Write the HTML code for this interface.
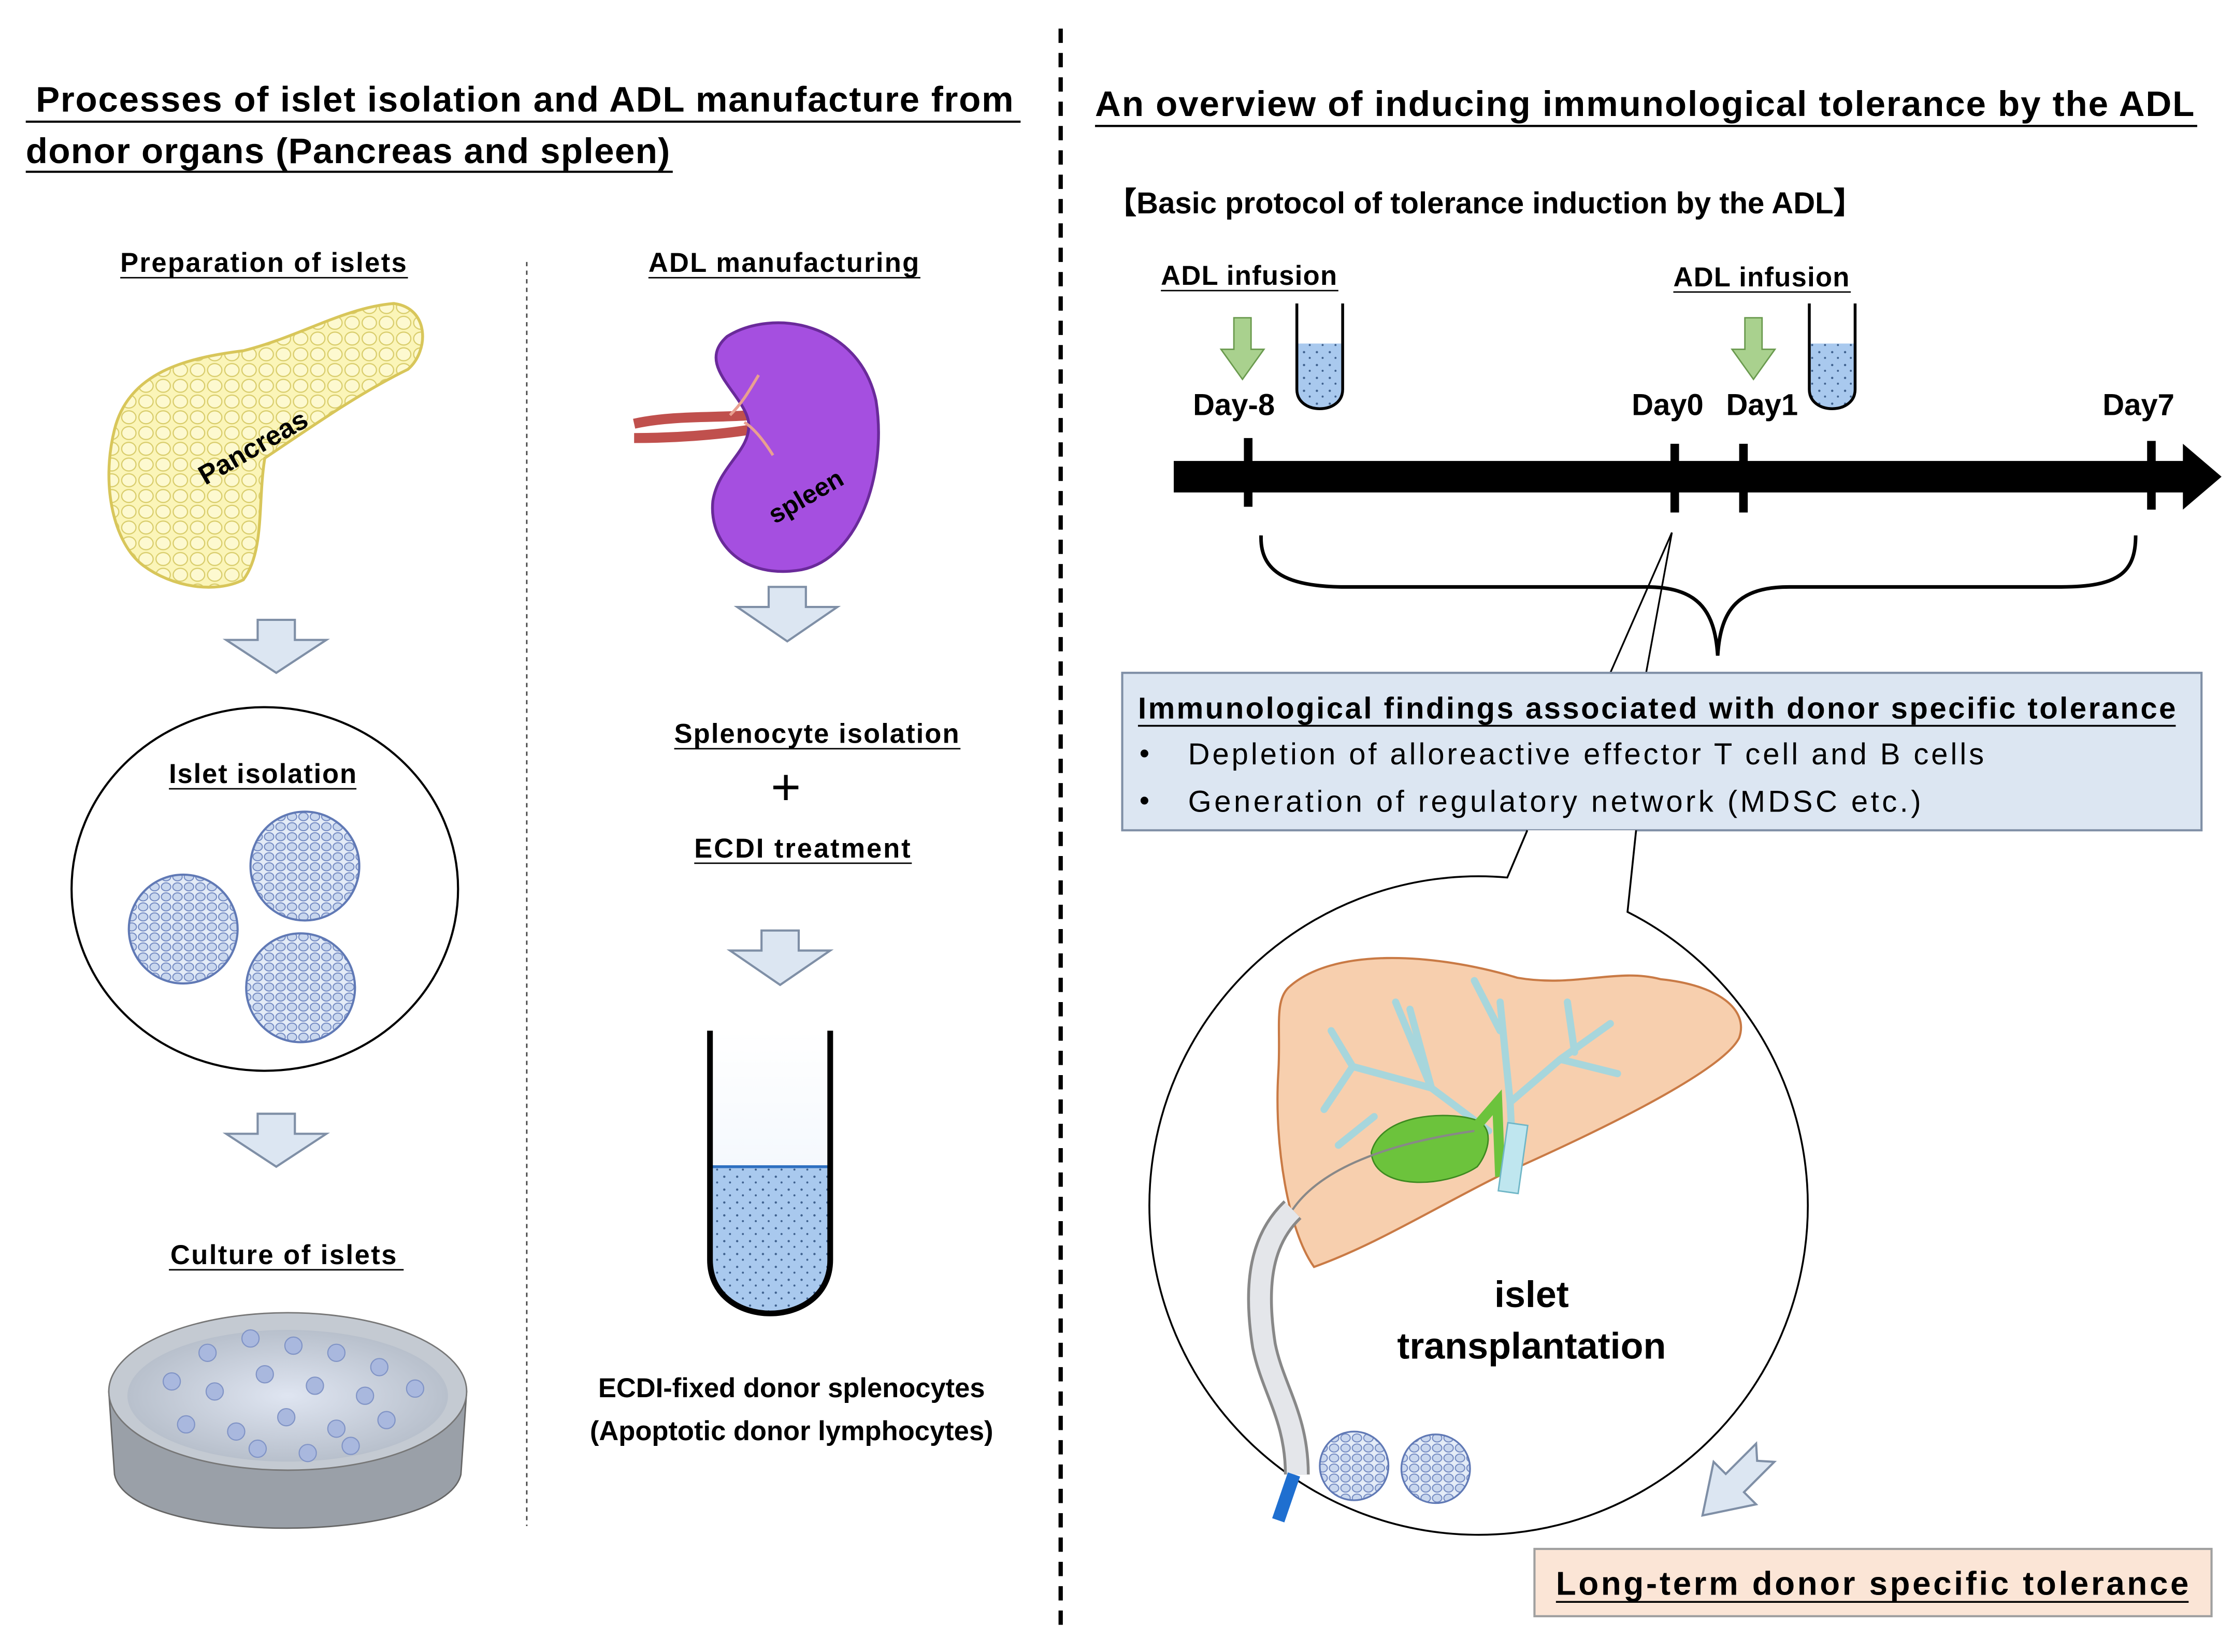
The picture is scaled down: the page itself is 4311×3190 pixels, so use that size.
<!DOCTYPE html>
<html><head><meta charset="utf-8"><style>
html,body{margin:0;padding:0;background:#fff;}
svg{display:block;}
text{font-family:"Liberation Sans","DejaVu Sans",sans-serif;}
</style></head><body>
<svg width="4311" height="3190" viewBox="0 0 1560 1154" preserveAspectRatio="none" xmlns="http://www.w3.org/2000/svg">
<defs>
<pattern id="cells" width="8" height="7" patternUnits="userSpaceOnUse">
<rect width="8" height="7" fill="#e4ecf7"/>
<ellipse cx="4" cy="3.5" rx="3.3" ry="2.8" fill="#c9d7ee" stroke="#6f86c0" stroke-width="0.7"/>
</pattern>
<pattern id="yel" width="12" height="11" patternUnits="userSpaceOnUse">
<rect width="12" height="11" fill="#fbf5b8"/>
<ellipse cx="6" cy="5.5" rx="5" ry="4.5" fill="#fdf9d0" stroke="#d8cc6a" stroke-width="0.8"/>
</pattern>
<pattern id="dots" width="9" height="9" patternUnits="userSpaceOnUse">
<rect width="9" height="9" fill="#a9c9ee"/>
<circle cx="2" cy="3" r="0.8" fill="#3d5f8c"/><circle cx="6" cy="7" r="0.7" fill="#3d5f8c"/>
</pattern>
<radialGradient id="dish" cx="0.5" cy="0.5" r="0.5"><stop offset="0" stop-color="#dfe5f1"/><stop offset="1" stop-color="#b8c0cc"/></radialGradient>
<linearGradient id="tubeg" x1="0" y1="0" x2="0" y2="1"><stop offset="0" stop-color="#fff"/><stop offset="1" stop-color="#e9f1fb"/></linearGradient>
</defs>

<line x1="741" y1="20" x2="741" y2="1142" stroke="#000" stroke-width="3" stroke-dasharray="10,7"/>
<line x1="368" y1="183" x2="368" y2="1066" stroke="#444" stroke-width="1" stroke-dasharray="3,3"/>

<text x="25" y="78" font-size="25" font-weight="bold" textLength="683">Processes of islet isolation and ADL manufacture from</text>
<line x1="18" y1="85" x2="713" y2="85" stroke="#000" stroke-width="1.5"/>
<text x="18" y="114" font-size="25" font-weight="bold" textLength="450">donor organs (Pancreas and spleen)</text>
<line x1="18" y1="120" x2="470" y2="120" stroke="#000" stroke-width="1.5"/>
<text x="765" y="81" font-size="25" font-weight="bold" textLength="768">An overview of inducing immunological tolerance by the ADL</text>
<line x1="765" y1="88" x2="1535" y2="88" stroke="#000" stroke-width="1.5"/>
<text x="773" y="149" font-size="21" font-weight="bold" font-family="'Liberation Sans','Noto Sans CJK JP',sans-serif">【Basic protocol of tolerance induction by the ADL】</text>

<text x="84" y="190" font-size="19" font-weight="bold" textLength="200">Preparation  of islets</text>
<line x1="84" y1="194" x2="285" y2="194" stroke="#000"/>
<text x="453" y="190" font-size="19" font-weight="bold" textLength="189">ADL manufacturing</text>
<line x1="453" y1="194" x2="643" y2="194" stroke="#000"/>

<path d="M80,300 C90,260 130,250 170,245 C210,235 240,215 275,212 C300,215 300,245 285,258 C250,275 215,300 185,320 C180,350 185,385 170,405 C150,415 120,410 100,395 C80,380 70,340 80,300 Z" fill="url(#yel)" stroke="#d8c65a" stroke-width="2"/>
<text x="180" y="318" font-size="19" font-weight="bold" transform="rotate(-30 180 318)" text-anchor="middle">Pancreas</text>

<path d="M443,296 C470,290 500,292 525,290 M443,306 C470,306 500,304 525,300" stroke="#c0504d" stroke-width="7" fill="none"/>
<path d="M508,235 C540,215 600,225 612,280 C620,330 600,390 560,398 C520,405 495,380 498,350 C502,325 525,315 523,295 C520,275 485,255 508,235 Z" fill="#a54fe0" stroke="#6a2a9a" stroke-width="2"/>
<path d="M510,290 C520,280 525,270 530,262 M520,295 C528,300 535,310 540,318" stroke="#e9a090" stroke-width="2" fill="none"/>
<text x="566" y="352" font-size="18" font-weight="bold" transform="rotate(-30 566 352)" text-anchor="middle">spleen</text>

<g fill="#dce6f2" stroke="#7f8fa6" stroke-width="1.5">
<path d="M180,433 h26 v14 h22 l-35,23 l-35,-23 h22 z"/>
<path d="M180,778 h26 v14 h22 l-35,23 l-35,-23 h22 z"/>
<path d="M537,410 h26 v14 h22 l-35,24 l-35,-24 h22 z"/>
<path d="M532,650 h26 v14 h22 l-35,24 l-35,-24 h22 z"/>
<path transform="translate(1212,1036) rotate(135)" d="M-30,-9 L0,-9 L0,-21 L32,0 L0,21 L0,9 L-30,9 L-22,0 Z"/>
</g>

<ellipse cx="185" cy="621" rx="135" ry="127" fill="#fff" stroke="#000" stroke-width="1.5"/>
<text x="118" y="547" font-size="19" font-weight="bold" textLength="131">Islet isolation</text>
<line x1="118" y1="551" x2="249" y2="551" stroke="#000"/>
<g stroke="#6079b5" stroke-width="1.5" fill="url(#cells)">
<circle cx="213" cy="605" r="38"/><circle cx="128" cy="649" r="38"/><circle cx="210" cy="690" r="38"/>
</g>

<text x="119" y="883" font-size="19" font-weight="bold" textLength="158">Culture  of islets</text>
<line x1="118" y1="887" x2="282" y2="887" stroke="#000"/>
<path d="M76,972 L80,1030 C90,1080 310,1080 322,1030 L326,972 Z" fill="#9aa0a8" stroke="#666"/>
<ellipse cx="201" cy="972" rx="125" ry="55" fill="#c4cad2" stroke="#777"/>
<ellipse cx="201" cy="975" rx="112" ry="46" fill="url(#dish)"/>
<g fill="#a9b8de" stroke="#8194c6" stroke-width="0.8">
<circle cx="145" cy="945" r="6"/><circle cx="175" cy="935" r="6"/><circle cx="205" cy="940" r="6"/><circle cx="235" cy="945" r="6"/><circle cx="265" cy="955" r="6"/>
<circle cx="120" cy="965" r="6"/><circle cx="150" cy="972" r="6"/><circle cx="185" cy="960" r="6"/><circle cx="220" cy="968" r="6"/><circle cx="255" cy="975" r="6"/><circle cx="290" cy="970" r="6"/>
<circle cx="130" cy="995" r="6"/><circle cx="165" cy="1000" r="6"/><circle cx="200" cy="990" r="6"/><circle cx="235" cy="998" r="6"/><circle cx="270" cy="992" r="6"/>
<circle cx="180" cy="1012" r="6"/><circle cx="215" cy="1015" r="6"/><circle cx="245" cy="1010" r="6"/>
</g>

<text x="471" y="519" font-size="19" font-weight="bold" textLength="199">Splenocyte isolation</text>
<line x1="471" y1="523" x2="671" y2="523" stroke="#000"/>
<text x="549" y="562" font-size="36" text-anchor="middle">+</text>
<text x="485" y="599" font-size="19" font-weight="bold" textLength="151">ECDI treatment</text>
<line x1="485" y1="603" x2="637" y2="603" stroke="#000"/>
<path d="M496,720 L496,880 C496,930 580,930 580,880 L580,720" fill="url(#tubeg)" stroke="none"/>
<path d="M496,815 L496,880 C496,930 580,930 580,880 L580,815 Z" fill="url(#dots)"/>
<line x1="496" y1="815" x2="580" y2="815" stroke="#2d6fc0" stroke-width="2"/>
<path d="M496,720 L496,880 C496,930 580,930 580,880 L580,720" fill="none" stroke="#000" stroke-width="4"/>
<text x="553" y="976" font-size="19" font-weight="bold" text-anchor="middle">ECDI-fixed donor splenocytes</text>
<text x="553" y="1006" font-size="19" font-weight="bold" text-anchor="middle">(Apoptotic donor  lymphocytes)</text>

<text x="811" y="199" font-size="19" font-weight="bold" textLength="123">ADL infusion</text>
<line x1="811" y1="203" x2="935" y2="203" stroke="#000"/>
<text x="1169" y="200" font-size="19" font-weight="bold" textLength="123">ADL infusion</text>
<line x1="1169" y1="204" x2="1293" y2="204" stroke="#000"/>
<g fill="#a9d18e" stroke="#6a9a4e" stroke-width="1">
<path d="M862,222 h12 v22 h9 l-15,21 l-15,-21 h9 z"/>
<path d="M1219,222 h12 v22 h9 l-15,21 l-15,-21 h9 z"/>
</g>
<g>
<path d="M906,240 L906,272 C906,290 938,290 938,272 L938,240 Z" fill="url(#dots)"/>
<path d="M906,212 L906,272 C906,290 938,290 938,272 L938,212" fill="none" stroke="#000" stroke-width="2"/>
<path d="M1264,240 L1264,272 C1264,290 1296,290 1296,272 L1296,240 Z" fill="url(#dots)"/>
<path d="M1264,212 L1264,272 C1264,290 1296,290 1296,272 L1296,212" fill="none" stroke="#000" stroke-width="2"/>
</g>
<g font-size="21" font-weight="bold" text-anchor="middle">
<text x="862" y="290">Day-8</text><text x="1165" y="290">Day0</text><text x="1231" y="290">Day1</text><text x="1494" y="290">Day7</text>
</g>

<rect x="820" y="322" width="712" height="22" fill="#000"/>
<path d="M1525,310 L1552,333 L1525,356 Z" fill="#000"/>
<g fill="#000">
<rect x="869" y="306" width="6" height="48"/><rect x="1167" y="310" width="6" height="48"/><rect x="1215" y="310" width="6" height="48"/><rect x="1500" y="308" width="6" height="48"/>
</g>
<path d="M881,374 C880,400 900,410 940,410 L1150,410 C1185,410 1198,425 1200,458 C1202,425 1215,410 1250,410 L1440,410 C1480,410 1492,400 1492,374" fill="none" stroke="#000" stroke-width="2.5"/>

<line x1="1168" y1="372" x2="1125" y2="470" stroke="#000" stroke-width="1.2"/>
<line x1="1168" y1="372" x2="1150" y2="470" stroke="#000" stroke-width="1.2"/>

<rect x="784" y="470" width="754" height="110" fill="#dce6f2" stroke="#7f8fa6" stroke-width="1.5"/>
<text x="795" y="502" font-size="21" font-weight="bold" textLength="725">Immunological findings associated with donor specific tolerance</text>
<line x1="795" y1="507" x2="1520" y2="507" stroke="#000" stroke-width="1.3"/>
<text x="796" y="533" font-size="20">•</text><text x="830" y="534" font-size="21" textLength="556">Depletion of alloreactive effector T cell and B cells</text>
<text x="796" y="566" font-size="20">•</text><text x="830" y="567" font-size="21" textLength="512">Generation of regulatory network (MDSC etc.)</text>

<path d="M1067,580 L1053,613 A230,230 0 1,0 1137,637 L1143,580" fill="#fff" stroke="#000" stroke-width="1.3"/>
<path d="M900,690 C930,662 1000,665 1060,683 C1100,690 1130,676 1160,684 C1200,688 1222,705 1215,725 C1205,745 1140,780 1050,820 C1000,845 960,870 918,885 C900,860 890,800 893,750 C895,720 890,700 900,690 Z" fill="#f7cfae" stroke="#c97a45" stroke-width="1.5"/>
<g stroke="#a7d6dc" stroke-width="5" fill="none" stroke-linecap="round">
<path d="M1058,830 L1055,770 L1048,700 M1055,770 L1090,740 L1125,715 M1090,740 L1130,750 M1048,720 L1030,685 M1100,735 L1095,700"/>
<path d="M1040,790 L1000,760 L975,700 M1000,760 L945,745 L930,720 M1000,760 L985,705 M945,745 L925,775 M960,780 L935,800"/>
</g>
<path d="M958,805 C965,778 1010,776 1030,782 C1045,787 1040,805 1032,815 C1010,830 960,832 958,805 Z" fill="#6cc33c" stroke="#3d8a20"/>
<path d="M1033,785 L1046,770 L1048,822" fill="none" stroke="#6cc33c" stroke-width="7"/>
<rect x="1050" y="785" width="14" height="48" fill="#bfe6ef" stroke="#6fb6c6" transform="rotate(8 1057 809)"/>
<path d="M903,845 C882,865 876,895 883,940 C889,970 906,990 906,1030" fill="none" stroke="#888" stroke-width="18"/>
<path d="M903,845 C882,865 876,895 883,940 C889,970 906,990 906,1030" fill="none" stroke="#e4e6ea" stroke-width="14"/>
<path d="M904,1030 L893,1062" stroke="#1f6fd0" stroke-width="9" fill="none"/>
<path d="M903,845 C920,820 960,800 1030,790" fill="none" stroke="#888" stroke-width="1.5"/>
<g fill="url(#cells)" stroke="#6079b5" stroke-width="1.2">
<circle cx="946" cy="1024" r="24"/><circle cx="1003" cy="1026" r="24"/>
</g>
<text x="1070" y="913" font-size="26" font-weight="bold" text-anchor="middle">islet</text>
<text x="1070" y="949" font-size="26" font-weight="bold" text-anchor="middle">transplantation</text>

<rect x="1072" y="1082" width="473" height="47" fill="#fbe5d6" stroke="#a0a0a0" stroke-width="1.5"/>
<text x="1087" y="1114" font-size="23" font-weight="bold" textLength="442">Long-term donor specific tolerance</text>
<line x1="1087" y1="1119" x2="1529" y2="1119" stroke="#000" stroke-width="1.3"/>
</svg>
</body></html>
